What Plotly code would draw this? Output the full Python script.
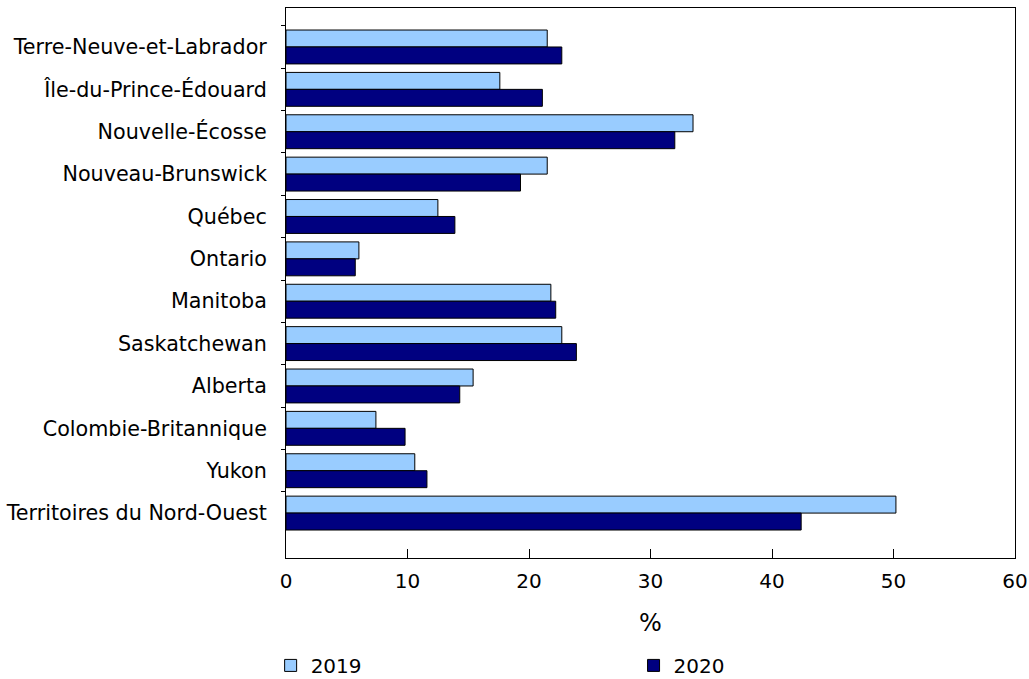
import plotly.graph_objects as go

categories = ["Terre-Neuve-et-Labrador", "Île-du-Prince-Édouard", "Nouvelle-Écosse",
              "Nouveau-Brunswick", "Québec", "Ontario", "Manitoba", "Saskatchewan",
              "Alberta", "Colombie-Britannique", "Yukon", "Territoires du Nord-Ouest"]
values_2019 = [21.5, 17.6, 33.5, 21.5, 12.5, 6.0, 21.8, 22.7, 15.4, 7.4, 10.6, 50.2]
values_2020 = [22.7, 21.1, 32.0, 19.3, 13.9, 5.7, 22.2, 23.9, 14.3, 9.8, 11.6, 42.4]
x_ticks = [0, 10, 20, 30, 40, 50, 60]

FONT = "DejaVu Sans, Verdana, sans-serif"

fig = go.Figure()
fig.add_trace(go.Bar(name="2019", y=categories, x=values_2019, orientation="h",
                     legend="legend",
                     marker=dict(color="#99CCFF", line=dict(color="black", width=1))))
fig.add_trace(go.Bar(name="2020", y=categories, x=values_2020, orientation="h",
                     legend="legend2",
                     marker=dict(color="#000080", line=dict(color="black", width=1))))

legend_common = dict(orientation="h", xref="container", xanchor="left",
                     yref="container", y=0.02, yanchor="middle",
                     itemwidth=30, font=dict(size=20), bgcolor="rgba(0,0,0,0)")

fig.update_layout(
    width=1029, height=679,
    margin=dict(l=286, r=14, t=8, b=121),
    paper_bgcolor="white", plot_bgcolor="white",
    font=dict(family=FONT, size=20, color="black"),
    barmode="group", bargap=0.2, bargroupgap=0,
    showlegend=True,
    legend=dict(x=0.2630, **legend_common),
    legend2=dict(x=0.6157, **legend_common),
)
fig.update_xaxes(range=[0, 60], tickvals=x_ticks, ticks="inside", ticklen=9,
                 tickcolor="black", showline=True, linecolor="black", linewidth=1,
                 mirror=True, showgrid=False, zeroline=False, automargin=False,
                 ticklabelstandoff=5, title=dict(text="%", standoff=22))
fig.update_yaxes(type="category", categoryorder="array", categoryarray=categories,
                 range=[12.06, -0.92], ticks="outside", ticklen=4, tickson="boundaries",
                 tickcolor="black", showline=True, linecolor="black", linewidth=1,
                 mirror=True, showgrid=False, zeroline=False, automargin=False,
                 ticklabelstandoff=14, tickfont=dict(size=20.7))

fig.write_html("out.html", config={"displayModeBar": False},
               post_script="document.body.style.margin='0';document.body.style.overflow='hidden';")
